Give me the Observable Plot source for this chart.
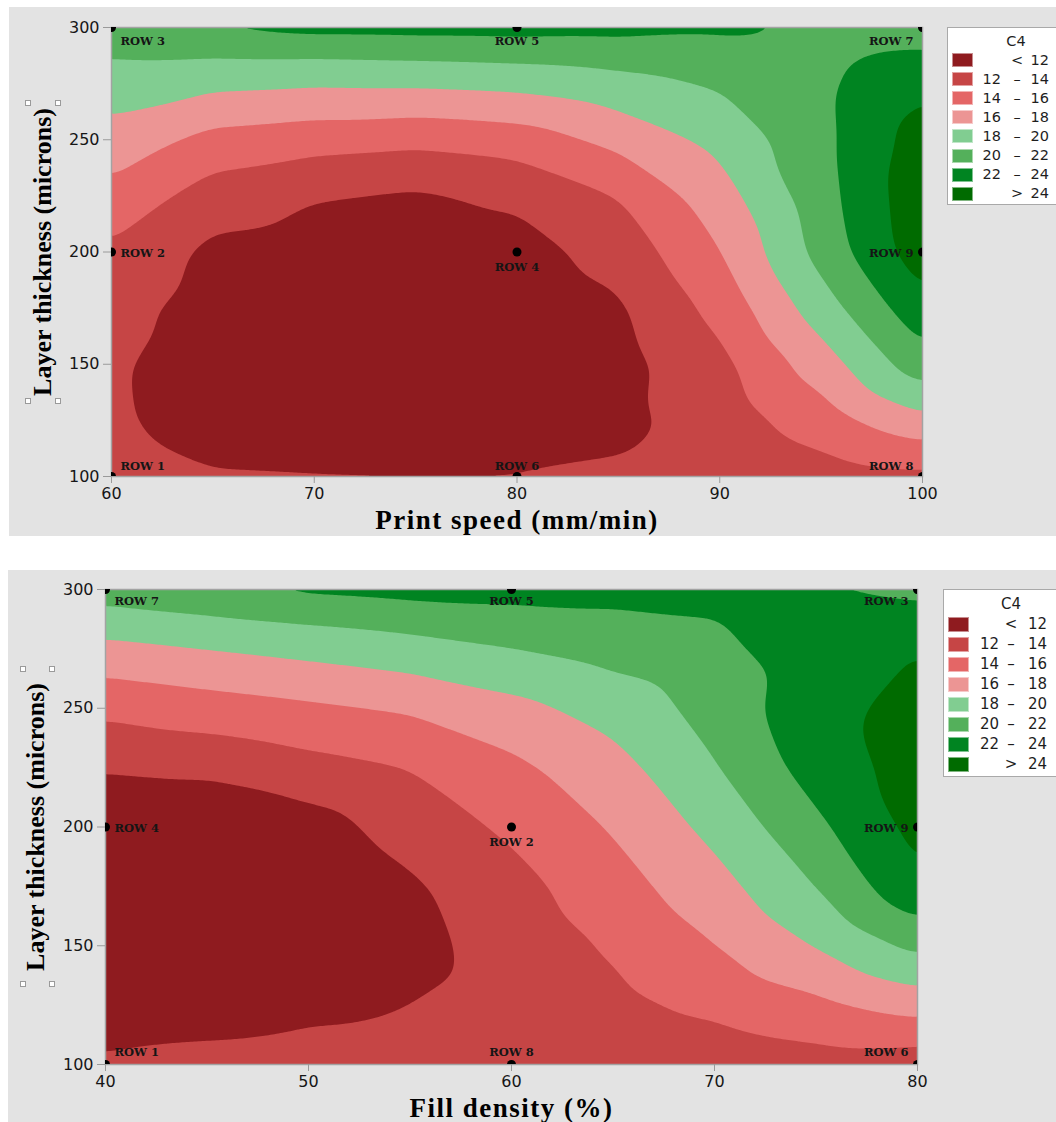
<!DOCTYPE html>
<html><head><meta charset="utf-8">
<script src="https://cdn.jsdelivr.net/npm/d3@7"></script>
<script src="https://cdn.jsdelivr.net/npm/@observablehq/plot@0.6"></script>
<style>
html,body{margin:0;padding:0;background:#fff}
body{width:1056px;height:1122px;position:relative;overflow:hidden;font-family:"DejaVu Sans",sans-serif}
.panel{position:absolute;background:#e3e3e3}
.panel svg{position:absolute;left:0;top:0}
.legend{position:absolute;background:#fff;border:1px solid #a9a9a9;box-sizing:border-box}
.lg{position:absolute;font-family:"DejaVu Sans",sans-serif;color:#1e1e1e;line-height:1;white-space:nowrap}
.sw{position:absolute;box-sizing:border-box;border:1px solid rgba(255,255,255,0.5)}
.handle{position:absolute;width:6px;height:6px;background:#fff;border:1px solid #9a9a9a;box-sizing:border-box}
</style></head><body>
<div id="p1" class="panel" style="left:9px;top:7px;width:1047px;height:529px"></div>
<div id="p2" class="panel" style="left:8px;top:570px;width:1048px;height:552px"></div>
<script>
// ---------- data ----------
const c4Thresholds = [12, 14, 16, 18, 20, 22, 24];
const c4Colors = ["#8f1b1f", "#c64545", "#e46666", "#ec9594", "#81cd91", "#54b05b", "#008421", "#006b00"];

const speedLevels = [60, 65, 70, 75, 80, 85, 90, 95, 100];
const fillLevels = [40, 45, 50, 55, 60, 65, 70, 75, 80];
const thicknessLevels = [300, 287.5, 275, 250, 225, 200, 175, 150, 125, 112.5, 100];

// C4 (rows = thickness, columns = print speed)
const c4BySpeed = [
  [21.2, 22.4, 22.95, 22.95, 22.95, 22.8, 22.5, 21.5, 21.15],
  [20.1, 20.07, 20.14, 20.34, 20.55, 20.8, 21.1, 21.5, 22.19],
  [19.07, 18.46, 18.2, 18.29, 18.57, 19.35, 20.25, 21.57, 23.6],
  [17.16, 15.32, 14.8, 14.47, 14.95, 16.58, 18.49, 21.44, 24.9],
  [15.42, 13.04, 12.07, 11.67, 12.37, 14.03, 17.13, 21.2, 25.4],
  [13.65, 11.5, 11.2, 11.0, 11.2, 12.75, 15.92, 20.73, 25.2],
  [12.68, 11.2, 10.9, 10.7, 10.8, 11.7, 14.62, 19.05, 23.4],
  [12.25, 11.1, 10.8, 10.6, 10.7, 11.3, 13.4, 17.0, 21.24],
  [12.35, 10.9, 10.7, 10.6, 10.7, 11.5, 12.85, 14.97, 17.52],
  [12.6, 11.3, 11.2, 11.2, 11.3, 11.85, 12.9, 14.03, 15.41],
  [12.8, 12.4, 12.3, 12.25, 12.25, 12.4, 12.95, 13.2, 13.3]
];

// C4 (rows = thickness, columns = fill density)
const c4ByFill = [
  [21.0, 21.7, 22.65, 22.85, 22.85, 22.7, 22.55, 21.9, 21.55],
  [19.17, 19.73, 20.28, 20.77, 21.22, 21.62, 21.96, 22.7, 22.58],
  [17.42, 18.02, 18.61, 19.24, 19.98, 20.8, 21.55, 23.0, 23.97],
  [14.46, 15.08, 15.64, 16.23, 17.39, 18.76, 20.73, 23.4, 24.6],
  [12.21, 12.52, 13.33, 14.05, 15.52, 17.26, 19.86, 22.9, 24.8],
  [10.1, 10.0, 11.13, 12.84, 14.36, 16.17, 18.57, 21.55, 24.6],
  [10.0, 9.8, 10.3, 11.7, 13.3, 15.19, 17.26, 20.02, 23.68],
  [10.0, 9.8, 10.2, 11.4, 12.8, 14.21, 15.94, 18.1, 20.51],
  [10.2, 10.2, 11.3, 12.0, 12.7, 13.5, 14.38, 15.52, 16.9],
  [11.35, 11.7, 12.27, 12.5, 12.8, 13.35, 13.65, 14.2, 14.75],
  [12.5, 13.2, 13.24, 12.9, 12.9, 13.2, 13.2, 13.4, 12.8]
];

const rowLabels = ["ROW 1", "ROW 2", "ROW 3", "ROW 4", "ROW 5", "ROW 6", "ROW 7", "ROW 8", "ROW 9"];
const speedRowSpeed = [60, 60, 60, 80, 80, 80, 100, 100, 100];
const speedRowThickness = [100, 200, 300, 200, 300, 100, 300, 100, 200];
const fillRowFill = [40, 60, 80, 40, 60, 80, 40, 60, 80];
const fillRowThickness = [100, 200, 300, 200, 300, 100, 300, 100, 200];

const speedTicks = [60, 70, 80, 90, 100];
const fillTicks = [40, 50, 60, 70, 80];
const thicknessTicks = [100, 150, 200, 250, 300];

// ---------- drawing ----------
function contourChart(cfg) {
  const samples = [];
  thicknessLevels.forEach((t, i) => cfg.xs.forEach((x, j) => samples.push({x, y: t, v: cfg.grid[i][j]})));
  const xMin = d3.min(cfg.xs), xMax = d3.max(cfg.xs);
  const yMin = d3.min(thicknessLevels), yMax = d3.max(thicknessLevels);
  const labelMarks = cfg.rowX.map((px, i) => {
    const py = cfg.rowY[i];
    const anchor = px === xMin ? "start" : px === xMax ? "end" : "middle";
    const dx = anchor === "start" ? 9 : anchor === "end" ? -9 : 0;
    const dy = py === yMax ? cfg.topDy : py === yMin ? cfg.bottomDy : (anchor === "middle" ? 15 : 1);
    return Plot.text([i], {
      x: k => cfg.rowX[k], y: k => cfg.rowY[k], text: k => rowLabels[k],
      textAnchor: anchor, dx, dy,
      fontFamily: "DejaVu Serif", fontWeight: "bold", fontSize: 11.5, fill: "#151515"
    });
  });
  const idx = d3.range(cfg.rowX.length);
  return Plot.plot({
    width: cfg.width, height: cfg.height,
    marginLeft: cfg.ml, marginRight: cfg.mr, marginTop: cfg.mt, marginBottom: cfg.mb,
    style: {background: "transparent", fontFamily: "DejaVu Sans", overflow: "visible"},
    x: {domain: [xMin, xMax]},
    y: {domain: [yMin, yMax]},
    color: {type: "threshold", domain: c4Thresholds, range: c4Colors},
    marks: [
      Plot.contour(samples, {
        x: "x", y: "y", fill: "v",
        interpolate: "barycentric", blur: 5,
        thresholds: [0, ...c4Thresholds]
      }),
      Plot.frame({stroke: "#a3a3a3", strokeWidth: 1.5}),
      Plot.axisX({ticks: cfg.xTicks, tickSize: 7, tickPadding: 4, stroke: "#9a9a9a", fill: "#161616",
        fontSize: 16, label: null, tickFormat: d => String(d)}),
      Plot.axisY({ticks: thicknessTicks, tickSize: 8, tickPadding: 4, stroke: "#9a9a9a", fill: "#161616",
        fontSize: 16, label: null, tickFormat: d => String(d)}),
      Plot.dot(idx, {x: k => cfg.rowX[k], y: k => cfg.rowY[k], r: 4.5, fill: "#000", stroke: "none", clip: true}),
      ...labelMarks,
      Plot.text([cfg.xTitle], {frameAnchor: "bottom", dy: 44, text: d => d, lineAnchor: "middle", textAnchor: "middle",
        fontFamily: "Liberation Serif", fontWeight: "bold", fontSize: 27, fill: "#000"}),
      Plot.text([cfg.yTitle], {frameAnchor: "left", dx: cfg.yTitleDx, rotate: -90, text: d => d,
        lineAnchor: "middle", textAnchor: "middle",
        fontFamily: "Liberation Serif", fontWeight: "bold", fontSize: 26, fill: "#000"})
    ]
  });
}

function addLegend(box) {
  const lg = document.createElement("div");
  lg.className = "legend";
  Object.assign(lg.style, {left: box.left + "px", top: box.top + "px", width: (1056 - box.left + 2) + "px", height: box.height + "px"});
  document.body.appendChild(lg);
  const put = (cls, text, css) => {
    const d = document.createElement("div");
    d.className = cls; if (text != null) d.textContent = text;
    Object.assign(d.style, css); document.body.appendChild(d); return d;
  };
  put("lg", "C4", {left: (box.titleX - 40) + "px", width: "80px", textAlign: "center",
    top: (box.titleY - box.fs * 0.5) + "px", fontSize: box.fs + "px"});
  c4Colors.forEach((c, i) => {
    const top = box.sw0 + box.step * i;
    put("sw", null, {left: box.swX + "px", top: top + "px", width: "21px", height: box.swH + "px", background: c});
    const cy = top + box.swH / 2 - box.fs * 0.5;
    const lo = i === 0 || i === c4Colors.length - 1 ? "" : String(c4Thresholds[i - 1]);
    const sym = i === 0 ? "<" : i === c4Colors.length - 1 ? ">" : "–";
    const hi = String(i === c4Colors.length - 1 ? c4Thresholds[i - 1] : c4Thresholds[i]);
    put("lg", lo, {left: (box.loEnd - 40) + "px", width: "40px", textAlign: "right", top: cy + "px", fontSize: box.fs + "px"});
    put("lg", sym, {left: (box.symX - 10) + "px", width: "20px", textAlign: "center", top: cy + "px", fontSize: box.fs + "px"});
    put("lg", hi, {left: (box.hiEnd - 40) + "px", width: "40px", textAlign: "right", top: cy + "px", fontSize: box.fs + "px"});
  });
}

function addHandles(pts) {
  pts.forEach(([x, y]) => {
    const h = document.createElement("div");
    h.className = "handle";
    h.style.left = (x - 3) + "px"; h.style.top = (y - 3) + "px";
    document.body.appendChild(h);
  });
}

function finish(svg, xTitle) {
  svg.querySelectorAll("text").forEach(t => {
    if (t.textContent === xTitle) t.style.letterSpacing = "1.5px";
  });
  return svg;
}

const xTitle1 = "Print speed (mm/min)", xTitle2 = "Fill density (%)";
const chart1 = finish(contourChart({
  xs: speedLevels, grid: c4BySpeed, rowX: speedRowSpeed, rowY: speedRowThickness,
  xTicks: speedTicks, xTitle: xTitle1, yTitle: "Layer thickness (microns)", yTitleDx: -69,
  topDy: 13.5, bottomDy: -10,
  width: 1047, height: 529, ml: 102, mr: 134, mt: 20, mb: 60
}), xTitle1);
document.getElementById("p1").appendChild(chart1);

const chart2 = finish(contourChart({
  xs: fillLevels, grid: c4ByFill, rowX: fillRowFill, rowY: fillRowThickness,
  xTicks: fillTicks, xTitle: xTitle2, yTitle: "Layer thickness (microns)", yTitleDx: -70,
  topDy: 12, bottomDy: -12,
  width: 1048, height: 552, ml: 97, mr: 139, mt: 19, mb: 58
}), xTitle2);
document.getElementById("p2").appendChild(chart2);

addLegend({left: 947, top: 27, height: 178, titleX: 1016, titleY: 41, sw0: 53, step: 19.1, swX: 952, swH: 14,
  loEnd: 1001, symX: 1017, hiEnd: 1049, fs: 14.5});
addLegend({left: 943, top: 589, height: 188, titleX: 1011, titleY: 604, sw0: 617, step: 20, swX: 948, swH: 15,
  loEnd: 999, symX: 1011, hiEnd: 1047, fs: 15});

addHandles([[28, 103], [58, 103], [28, 401], [58, 401], [23, 669], [52, 669], [23, 984], [52, 984]]);
</script>
</body></html>
